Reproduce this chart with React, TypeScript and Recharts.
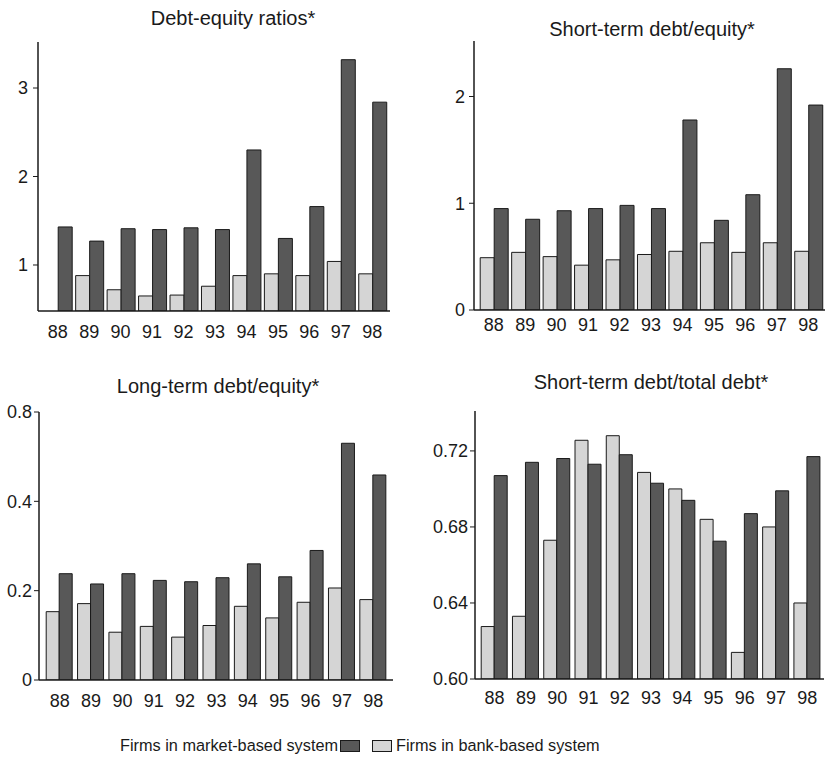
import React from "react";
import { Bar, BarChart, XAxis, YAxis } from "recharts";

const years = ["88", "89", "90", "91", "92", "93", "94", "95", "96", "97", "98"];

// Debt-equity ratios (bank 88 sits below the axis floor, not drawn)
const debtEquityMarket = [1.43, 1.27, 1.41, 1.4, 1.42, 1.4, 2.3, 1.3, 1.66, 3.32, 2.84];
const debtEquityBank = [null, 0.88, 0.72, 0.65, 0.66, 0.76, 0.88, 0.9, 0.88, 1.04, 0.9];

const shortEquityMarket = [0.95, 0.85, 0.93, 0.95, 0.98, 0.95, 1.78, 0.84, 1.08, 2.26, 1.92];
const shortEquityBank = [0.49, 0.54, 0.5, 0.42, 0.47, 0.52, 0.55, 0.63, 0.54, 0.63, 0.55];

const longEquityMarket = [0.238, 0.215, 0.238, 0.223, 0.22, 0.229, 0.26, 0.231, 0.29, 0.53, 0.459];
const longEquityBank = [0.153, 0.171, 0.107, 0.12, 0.096, 0.122, 0.165, 0.139, 0.174, 0.206, 0.18];

const shortTotalMarket = [0.707, 0.714, 0.716, 0.713, 0.718, 0.703, 0.694, 0.6725, 0.687, 0.699, 0.717];
const shortTotalBank = [0.6276, 0.633, 0.673, 0.7256, 0.728, 0.7087, 0.7, 0.684, 0.614, 0.68, 0.64];

const debtEquityTicks = [1, 2, 3];
const shortEquityTicks = [0, 1, 2];
// the printed figure labels its top tick "0.8" although it sits where 0.6 would be
const longEquityTicks = [0, 0.2, 0.4, 0.6];
const longEquityTickLabels = ["0", "0.2", "0.4", "0.8"];
const shortTotalTicks = [0.6, 0.64, 0.68, 0.72];

const DARK = "#585858";
const LIGHT = "#d5d5d5";
const INK = "#1a1a1a";
const FONT = "'Liberation Sans', Arial, Helvetica, sans-serif";

function buildRows(market: (number | null)[], bank: (number | null)[]) {
  return years.map((year, i) => ({ year, market: market[i], bank: bank[i] }));
}

type PanelProps = {
  title: string;
  titleX: number;
  titleY: number;
  left: number;
  top: number;
  height: number;
  yWidth: number;
  marginTop: number;
  marginRight: number;
  xHeight: number;
  xTickMargin: number;
  yTickMargin: number;
  padLeft: number;
  padRight: number;
  domain: [number, number];
  ticks: number[];
  formatTick: (v: number) => string;
  market: (number | null)[];
  bank: (number | null)[];
};

function Panel(p: PanelProps) {
  const data = buildRows(p.market, p.bank);
  return (
    <>
      <div
        style={{
          position: "absolute",
          left: p.titleX,
          top: p.titleY,
          transform: "translate(-50%, -50%)",
          whiteSpace: "nowrap",
          fontFamily: FONT,
          fontSize: 20,
          color: INK,
        }}
      >
        {p.title}
      </div>
      <div style={{ position: "absolute", left: p.left, top: p.top }}>
        <BarChart
          width={415}
          height={p.height}
          data={data}
          margin={{ top: p.marginTop, right: p.marginRight, bottom: 0, left: 0 }}
          barCategoryGap="7%"
          barGap={0}
        >
          <XAxis
            dataKey="year"
            height={p.xHeight}
            tickLine={false}
            tickSize={0}
            tickMargin={p.xTickMargin}
            axisLine={{ stroke: INK, strokeWidth: 1.5 }}
            padding={{ left: p.padLeft, right: p.padRight }}
            tick={{ fill: INK, fontSize: 18, fontFamily: FONT }}
            interval={0}
          />
          <YAxis
            width={p.yWidth}
            type="number"
            domain={p.domain}
            allowDataOverflow
            ticks={p.ticks}
            tickSize={5}
            tickMargin={p.yTickMargin}
            tickFormatter={p.formatTick}
            axisLine={{ stroke: INK, strokeWidth: 1.5 }}
            tickLine={{ stroke: INK, strokeWidth: 1 }}
            tick={{ fill: INK, fontSize: 18, fontFamily: FONT }}
          />
          <Bar dataKey="bank" fill={LIGHT} stroke={INK} strokeWidth={1} isAnimationActive={false} />
          <Bar dataKey="market" fill={DARK} stroke={INK} strokeWidth={1} isAnimationActive={false} />
        </BarChart>
      </div>
    </>
  );
}

export default function App() {
  return (
    <div
      style={{
        position: "absolute",
        left: 0,
        top: 0,
        width: 830,
        height: 759,
        background: "#fff",
        overflow: "hidden",
      }}
    >
      <Panel
        title="Debt-equity ratios*"
        titleX={233}
        titleY={18}
        left={0}
        top={0}
        height={352}
        yWidth={38}
        marginTop={42}
        marginRight={25}
        xHeight={41}
        xTickMargin={14}
        yTickMargin={5}
        padLeft={4}
        padRight={2}
        domain={[0.48, 3.52]}
        ticks={debtEquityTicks}
        formatTick={(v) => String(v)}
        market={debtEquityMarket}
        bank={debtEquityBank}
      />
      <Panel
        title="Short-term debt/equity*"
        titleX={652}
        titleY={29}
        left={415}
        top={0}
        height={352}
        yWidth={59}
        marginTop={41}
        marginRight={5}
        xHeight={42}
        xTickMargin={8}
        yTickMargin={4}
        padLeft={4}
        padRight={1}
        domain={[0, 2.52]}
        ticks={shortEquityTicks}
        formatTick={(v) => String(v)}
        market={shortEquityMarket}
        bank={shortEquityBank}
      />
      <Panel
        title="Long-term debt/equity*"
        titleX={218}
        titleY={386}
        left={0}
        top={340}
        height={380}
        yWidth={39}
        marginTop={72}
        marginRight={22}
        xHeight={40}
        xTickMargin={14}
        yTickMargin={2}
        padLeft={5}
        padRight={4}
        domain={[0, 0.6]}
        ticks={longEquityTicks}
        formatTick={(v) => longEquityTickLabels[longEquityTicks.indexOf(v)] ?? String(v)}
        market={longEquityMarket}
        bank={longEquityBank}
      />
      <Panel
        title="Short-term debt/total debt*"
        titleX={651}
        titleY={382}
        left={415}
        top={340}
        height={380}
        yWidth={60}
        marginTop={71}
        marginRight={6}
        xHeight={41}
        xTickMargin={12}
        yTickMargin={2}
        padLeft={4}
        padRight={1}
        domain={[0.6, 0.741]}
        ticks={shortTotalTicks}
        formatTick={(v) => v.toFixed(2)}
        market={shortTotalMarket}
        bank={shortTotalBank}
      />

      <div
        style={{
          position: "absolute",
          top: 736,
          left: 120,
          display: "flex",
          alignItems: "center",
          fontFamily: FONT,
          fontSize: 16.3,
          color: INK,
          whiteSpace: "nowrap",
        }}
      >
        <span>Firms in market-based system</span>
        <span
          style={{
            display: "inline-block",
            width: 18,
            height: 10,
            marginLeft: 2,
            background: DARK,
            border: `1px solid ${INK}`,
          }}
        />
        <span
          style={{
            display: "inline-block",
            width: 18,
            height: 10,
            marginLeft: 12,
            background: LIGHT,
            border: `1px solid ${INK}`,
          }}
        />
        <span style={{ marginLeft: 4 }}>Firms in bank-based system</span>
      </div>
    </div>
  );
}
